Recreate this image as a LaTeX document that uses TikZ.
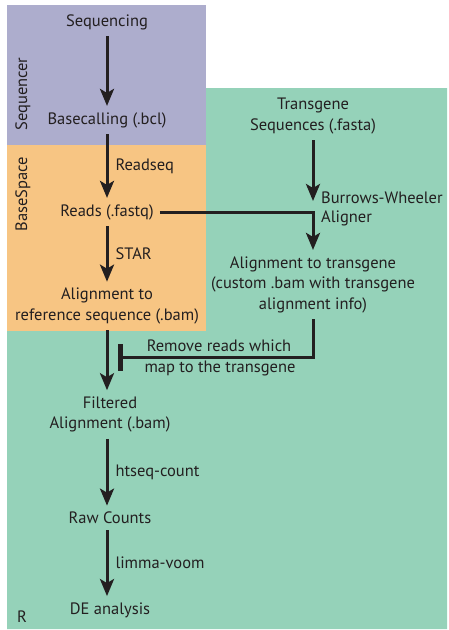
\documentclass[tikz,border=0pt]{standalone}
\usepackage{fontspec}
\setmainfont{PT Sans}
\usetikzlibrary{arrows.meta}
\definecolor{seqpurple}{HTML}{ADADCD}
\definecolor{bsorange}{HTML}{F7C583}
\definecolor{rgreen}{HTML}{95D2B9}
\definecolor{ink}{HTML}{231F20}
\tikzset{
  txt/.style={font=\fontsize{16.5}{20.5}\selectfont, text=ink, align=center, inner xsep=4pt, inner ysep=6.2pt},
  lbl/.style={font=\fontsize{16.5}{18.5}\selectfont, text=ink, inner sep=0pt},
  flow/.style={draw=ink, line width=3pt, -{Stealth[length=17pt,width=14pt,inset=4pt]}},
  conn/.style={draw=ink, line width=3pt},
}
\begin{document}
\begin{tikzpicture}[x=1pt,y=-1pt]
\useasboundingbox (0,0) rectangle (448,630);
% regions
\fill[rgreen] (206,88) -- (447,88) -- (447,629) -- (7,629) -- (7,331) -- (206,331) -- cycle;
\fill[seqpurple] (7,5) rectangle (206,145);
\fill[bsorange] (7,145) rectangle (206,331);
% region labels
\node[lbl, rotate=90] (lseq) at (23,94) {Sequencer};
\node[lbl, rotate=90] (lbs) at (23,194) {BaseSpace};
\node[lbl] (lr) at (22,617) {R};
% main nodes
\node[txt] (seq) at (107,22) {Sequencing};
\node[txt] (bcl) at (107,120) {Basecalling (.bcl)};
\node[txt, inner xsep=6pt] (reads) at (107,212) {Reads (.fastq)};
\node[txt] (refaln) at (107,306) {Alignment to\\reference sequence (.bam)};
\node[txt] (filt) at (110,414.5) {Filtered\\Alignment (.bam)};
\node[txt] (raw) at (110,518) {Raw Counts};
\node[txt] (de) at (110,610) {DE analysis};
\node[txt] (tseq) at (313,116) {Transgene\\Sequences (.fasta)};
\node[txt] (taln) at (313,284.5) {Alignment to transgene\\(custom .bam with transgene\\alignment info)};
% connectors
\draw[flow] (seq.south) -- (seq.south |- bcl.north);
\draw[flow] (bcl.south) -- node[lbl, right=7pt] (lrs) {Readseq} (bcl.south |- reads.north);
\draw[flow] (reads.south) -- node[lbl, right=7pt] (lstar) {STAR} (reads.south |- refaln.north);
\draw[flow] (refaln.south) -- (refaln.south |- filt.north);
\draw[flow] (filt.south -| refaln.south) -- node[lbl, right=7pt] (lht) {htseq-count} (refaln.south |- raw.north);
\draw[flow] (raw.south -| refaln.south) -- node[lbl, right=7pt] (llv) {limma-voom} (refaln.south |- de.north);
\coordinate (bwtip) at (313,201);
\draw[flow] (tseq.south) -- (bwtip);
\draw[flow] (reads.east) -| (taln.north);
\node[lbl, anchor=west, align=left] (lbw) at (321,209) {Burrows-Wheeler\\Aligner};
\coordinate (barpt) at (118,357);
\draw[conn, -{Bar[width=27pt,line width=4.5pt]}] (taln.south) |- (barpt);
\node[lbl] (lrm1) at (219,346) {Remove reads which};
\node[lbl] (lrm2) at (220,368) {map to the transgene};
\end{tikzpicture}
\end{document}
